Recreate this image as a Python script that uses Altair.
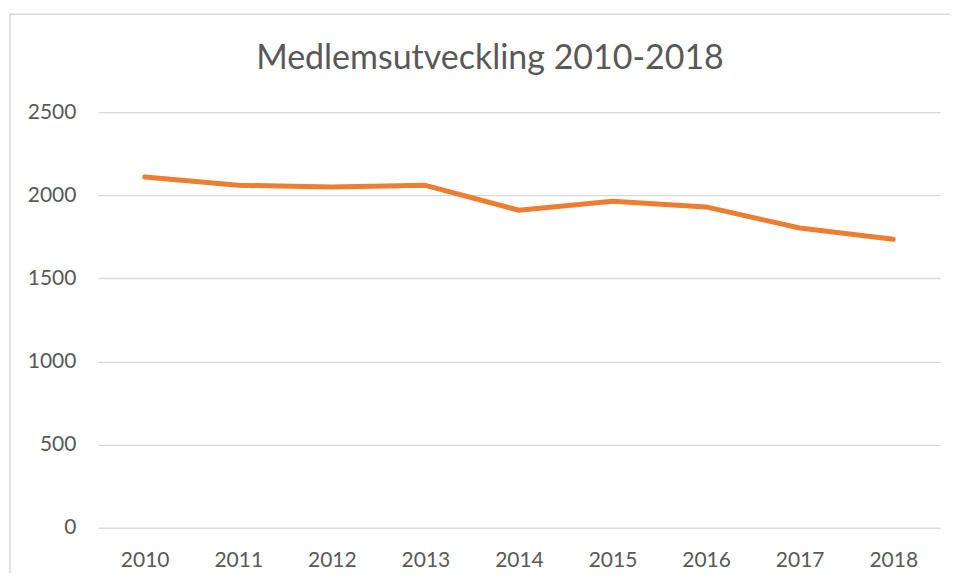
import altair as alt
import pandas as pd

years = ["2010", "2011", "2012", "2013", "2014", "2015", "2016", "2017", "2018"]
members = [2110, 2060, 2050, 2060, 1910, 1964, 1930, 1803, 1735]
y_ticks = [0, 500, 1000, 1500, 2000, 2500]
title_text = "Medlemsutveckling 2010-2018"

df = pd.DataFrame({"year": years, "members": members})

FONT = "Lato"
GREY = "#595959"

line = alt.Chart(df).mark_line(
    color="#ED7D31", strokeWidth=5, strokeCap="round", strokeJoin="round"
).encode(
    x=alt.X(
        "year:N",
        sort=years,
        scale=alt.Scale(type="point", padding=0.5),
        axis=alt.Axis(
            title=None, labelAngle=0, ticks=False, domain=False, grid=False,
            labelPadding=22, labelFontSize=21, labelColor=GREY, labelFont=FONT,
        ),
    ),
    y=alt.Y(
        "members:Q",
        scale=alt.Scale(domain=[0, 2500], nice=False),
        axis=alt.Axis(
            values=y_ticks, format="d", title=None, ticks=False, domain=False,
            grid=True, gridColor="#d9d9d9", gridWidth=1.3, labelPadding=22,
            labelFontSize=21, labelColor=GREY, labelFont=FONT,
        ),
    ),
)

border = alt.Chart(pd.DataFrame({"a": [0]})).mark_rect(
    fillOpacity=0, stroke="#d9d9d9", strokeWidth=1.5, clip=False
).encode(
    x=alt.value(-88), x2=alt.value(900), y=alt.value(-98), y2=alt.value(520)
)

chart = alt.layer(border, line).properties(
    width=843,
    height=416,
    title=alt.TitleParams(
        title_text, fontSize=34, font=FONT, color=GREY, fontWeight="normal",
        anchor="middle", frame="group", dx=-29, offset=-63,
    ),
    padding={"left": 90, "top": 104, "right": 10, "bottom": 45},
    autosize=alt.AutoSizeParams(type="none"),
).configure_view(stroke=None)

chart.save("out.html", embed_options={"renderer": "svg", "actions": False})
